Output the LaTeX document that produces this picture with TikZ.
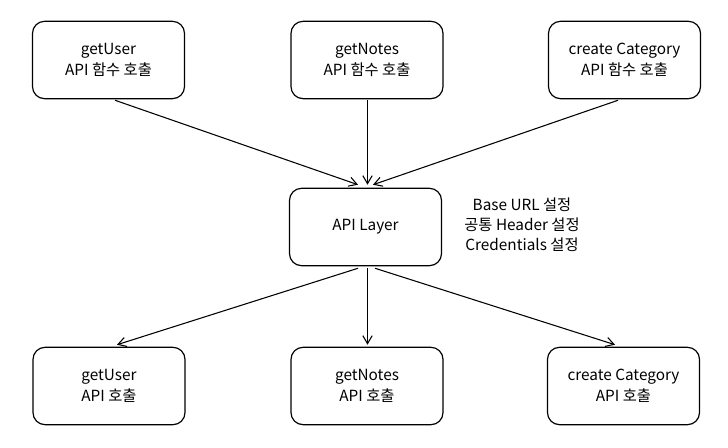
\documentclass[tikz,border=0pt]{standalone}
\usepackage{fontspec}
\setmainfont{Noto Sans CJK KR}
\usepackage{tikz}
\usetikzlibrary{positioning, calc, arrows.meta}

\begin{document}
\begin{tikzpicture}[x=0.75pt, y=-0.75pt,
		callbox/.style={draw, line width=0.9pt, rounded corners=9pt, minimum width=114pt, minimum height=58pt, inner sep=0pt, align=center, font=\fontsize{11.5}{16}\selectfont},
		flow/.style={-{Straight Barb[length=6pt, width=7pt]}, line width=0.8pt}]
		
		\useasboundingbox (0,0) rectangle (728,448);
		
		\node[callbox] (getuser) at (108.5,60) {getUser\\API 함수 호출};
		\node[callbox] (getnotes) at (367,60) {getNotes\\API 함수 호출};
		\node[callbox] (category) at (624.5,60) {create Category\\API 함수 호출};
		
		\node[callbox] (api) at (365.5,227) {API Layer};
		\node[align=center, font=\fontsize{11.5}{15}\selectfont] (setup) at (522,225) {Base URL 설정\\공통 Header 설정\\Credentials 설정};
		
		\draw[flow] ($(getuser.south)+(6.5,1)$) -- ($(api.north)+(-7.5,-3)$);
		\draw[flow] ($(getnotes.south)+(0.5,1)$) -- ($(api.north)+(2,-3)$);
		\draw[flow] ($(category.south)+(-6.5,1)$) -- ($(api.north)+(7.5,-3)$);
		
		\node[callbox] (usercall) at (109,386) {getUser\\API 호출};
		\node[callbox] (notescall) at (367,386) {getNotes\\API 호출};
		\node[callbox] (categorycall) at (623.5,386) {create Category\\API 호출};
		
		\draw[flow] ($(api.south)+(-7.5,2)$) -- ($(usercall.north)+(8,-2)$);
		\draw[flow] ($(api.south)+(2,2)$) -- ($(notescall.north)+(0.5,-2)$);
		\draw[flow] ($(api.south)+(9.5,2)$) -- ($(categorycall.north)+(-8.5,-2)$);
		
\end{tikzpicture}
\end{document}
